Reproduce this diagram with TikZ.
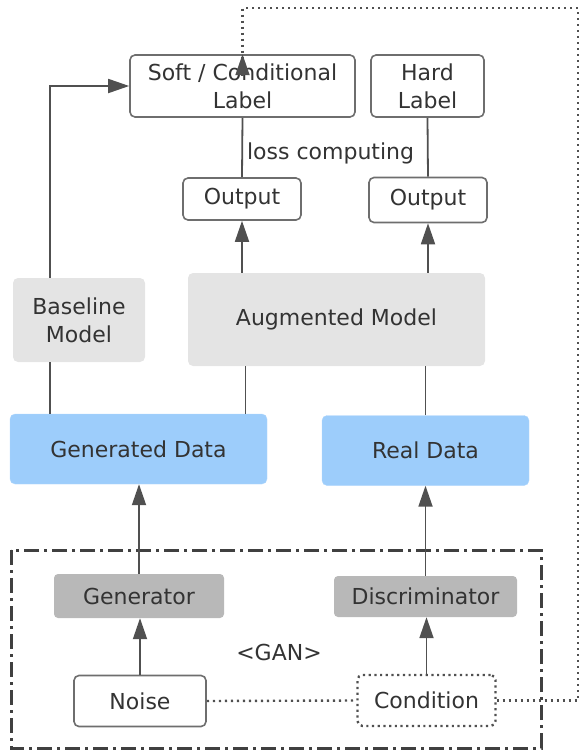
\documentclass[tikz,border=0pt]{standalone}
\usepackage{fontspec}
\setmainfont{DejaVu Sans}
\usepackage{xcolor}
\usetikzlibrary{arrows.meta,positioning}
\definecolor{txtgray}{HTML}{333333}
\definecolor{linegray}{HTML}{505050}
\definecolor{boxgray}{HTML}{6E6E6E}
\definecolor{modelgray}{HTML}{E4E4E4}
\definecolor{gangray}{HTML}{B8B8B8}
\definecolor{datablue}{HTML}{9DCDFB}

\begin{document}
\begin{tikzpicture}[x=1pt, y=-1pt, font=\fontsize{22}{28}\selectfont, text=txtgray,
  labelbox/.style={draw=boxgray, line width=1.6pt, rounded corners=5pt, fill=white, align=center, inner sep=0pt},
  modelbox/.style={fill=modelgray, rounded corners=5pt, align=center, inner sep=0pt},
  databox/.style={fill=datablue, draw=datablue!80!white, rounded corners=5pt, inner sep=0pt},
  ganbox/.style={fill=gangray, rounded corners=4pt, inner sep=0pt},
  conn/.style={draw=linegray, line width=1.8pt},
  arr/.style={conn, -{Triangle[length=21pt,width=14pt]}},
  dotline/.style={draw=linegray, line width=2.4pt, dash pattern=on 2.2pt off 3.8pt}]

\useasboundingbox (0,0) rectangle (579,750);

% GAN frame
\draw[linegray!80!black, line width=3pt, dash pattern=on 15pt off 5pt on 3pt off 5pt] (11,550) rectangle (541,748);
\node (gan) at (279,652) {<GAN>};

% Labels and outputs
\node[labelbox, minimum width=225pt, minimum height=62pt] (soft) at (242.5,86) {Soft / Conditional\\Label};
\node[labelbox, minimum width=113pt, minimum height=62pt] (hard) at (427.5,86) {Hard\\Label};
\node[labelbox, minimum width=118pt, minimum height=42pt] (out1) at (242,199) {Output};
\node[labelbox, minimum width=118pt, minimum height=45pt] (out2) at (428,200) {Output};

% Models
\node[modelbox, minimum width=132pt, minimum height=84pt] (base) at (79,320) {Baseline\\Model};
\node[modelbox, minimum width=297pt, minimum height=93pt] (aug) at (336.5,319.5) {Augmented Model};

% Data
\node[databox, minimum width=257pt, minimum height=70pt] (gendata) at (138.5,449) {Generated Data};
\node[databox, minimum width=207pt, minimum height=70pt] (realdata) at (425.5,450.5) {Real Data};

% GAN parts
\node[ganbox, minimum width=170pt, minimum height=44pt] (generator) at (139,596) {Generator};
\node[ganbox, minimum width=183pt, minimum height=41pt] (discrim) at (425.5,596.5) {Discriminator};
\node[labelbox, minimum width=132pt, minimum height=51pt] (noise) at (140,701) {Noise};
\node[draw=linegray, line width=2.4pt, dash pattern=on 2.2pt off 3.5pt, rounded corners=5pt, minimum width=138pt, minimum height=51pt, inner sep=0pt] (cond) at (426.5,700.5) {Condition};

\coordinate (bx) at (50,0);
\coordinate (ax) at (245.5,0);
\coordinate (fb) at (578,8);

% Connectors
\draw[arr] (base.north -| bx) |- (soft.west);
\draw[conn] (gendata.north -| bx) -- (base.south -| bx);
\draw[conn] (gendata.north -| ax) -- (aug.south -| ax);
\draw[conn] (realdata.north) -- (aug.south -| realdata);
\draw[arr] (aug.north -| out1) -- (out1.south);
\draw[arr] (aug.north -| out2) -- (out2.south);
\draw[conn] (soft.south) -- node[right, pos=0.6, inner sep=4pt] {loss computing} (out1.north);
\draw[conn] (hard.south) -- (out2.north);
\draw[arr] (generator.north) -- (gendata.south -| generator);
\draw[arr] (discrim.north) -- (realdata.south -| discrim);
\draw[arr] (noise.north) -- (noise.north |- generator.south);
\draw[arr] (cond.north) -- (cond.north |- discrim.south);

% Condition feedback
\draw[dotline] (noise.east) -- (cond.west);
\draw[dotline] (cond.east) -| (fb) -| ([yshift=-22pt]soft.north);
\draw[arr] ([yshift=-22pt]soft.north) -- (soft.north);

\end{tikzpicture}
\end{document}
